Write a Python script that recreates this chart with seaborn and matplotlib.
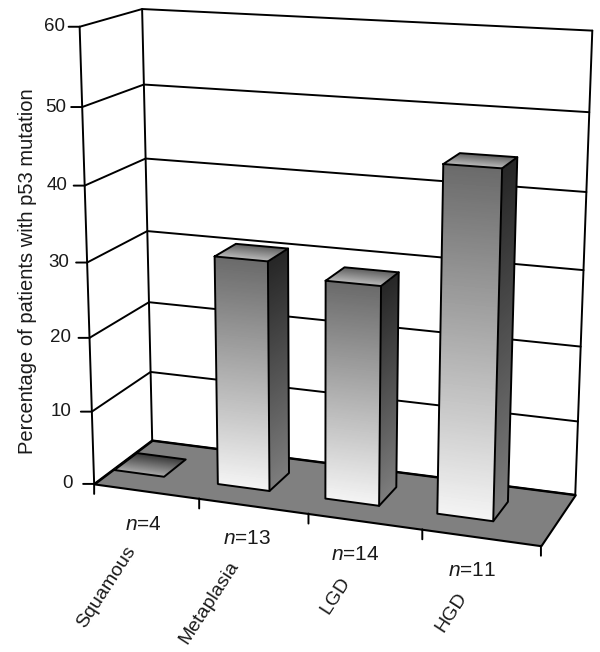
import numpy as np
import matplotlib
matplotlib.use("Agg")
import matplotlib.pyplot as plt
import seaborn as sns
from mpl_toolkits.mplot3d import proj3d
from mpl_toolkits.mplot3d.art3d import Poly3DCollection

categories = ["Squamous", "Metaplasia", "LGD", "HGD"]
n_labels = [4, 13, 14, 11]
values = [0, 30.8, 29.0, 44.9]
yticks = [0, 10, 20, 30, 40, 50, 60]

# pinhole camera of the old spreadsheet chart: (category, depth, percent) -> picture pixels
CAMERA = np.array([
    [101.148, 67.5399, -0.323049, 94.1475],
    [4.80703, -16.0719, -7.64664, 483.916],
    [-0.0195003, 0.0624234, -0.001018, 1.0],
])
BAR_START, BAR_WIDTH = 0.015, 0.485
BAR_FRONT, BAR_BACK = 0.31, 0.70
N_DX = [-3, -6, -10, -9]
CAT_DX = [-14, -18, -18, -18]

sns.set_theme(style="white")
plt.rcParams["font.family"] = ["Liberation Sans", "DejaVu Sans"]
plt.rcParams["mathtext.fontset"] = "custom"
plt.rcParams["mathtext.rm"] = "Liberation Sans"
plt.rcParams["mathtext.it"] = "Liberation Sans:italic"

fig = plt.figure(figsize=(6, 6.52), dpi=100)
ax = fig.add_axes([0, 0, 1, 1], projection="3d")
ax.set_xlim(0, 4, view_margin=0)
ax.set_ylim(0, 1, view_margin=0)
ax.set_zlim(0, 60, view_margin=0)
ax.computed_zorder = False
ax.set_axis_off()
ax.apply_aspect()
a0 = ax.transData.transform((0, 0))
k = ax.transData.transform((1, 1))[0] - a0[0]

row_u = (CAMERA[0] - a0[0] * CAMERA[2]) / k
row_v = ((652 - a0[1]) * CAMERA[2] - CAMERA[1]) / k
M = np.array([row_u, row_v, [0, 0.1, 0, -1.5], CAMERA[2]])
ax.get_proj = lambda: M


def face(X, Y, Z, colors, zorder):
    ax.plot_surface(X, Y, Z, facecolors=colors, rstride=1, cstride=1, shade=False,
                    linewidth=0, antialiased=False, zorder=zorder)


def ramp(start, end, n, cols=2):
    pal = np.array(sns.blend_palette([start, end], n_colors=n))
    rgba = np.c_[pal, np.ones(n)]
    return np.repeat(rgba[:, None, :], cols, axis=1)


def annotate_at(x, y, z, text, dx, dy, **kw):
    u, v, _ = proj3d.proj_transform(x, y, z, M)
    return ax.annotate(text, xy=(u, v), xytext=(dx, dy), textcoords="offset pixels",
                       annotation_clip=False, **kw)


line_kw = dict(color="black", lw=1.4)
tick_kw = dict(arrowstyle="-", lw=1.4, color="black", shrinkA=0, shrinkB=0)
text_color = "#1a1a1a"

floor = [[(0, 0, 0), (4, 0, 0), (4, 1, 0), (0, 1, 0)]]
ax.add_collection3d(Poly3DCollection(floor, facecolors="#808080", edgecolors="black", linewidths=1.5, zorder=1))
for z in yticks:
    ax.plot([0, 0, 4], [0, 1, 1], [z, z, z], zorder=2, clip_on=False, **line_kw)
    annotate_at(0, 0, z, "", -11, 0, arrowprops=tick_kw)
    annotate_at(0, 0, z, str(z), -21 + 6 * z / 60, 0, ha="right", va="center", fontsize=13.5, color=text_color)
for x_, y_ in [(0, 0), (0, 1), (4, 1)]:
    ax.plot([x_, x_], [y_, y_], [0, 60], zorder=2, clip_on=False, **line_kw)
for x_ in range(5):
    annotate_at(x_, 0, 0, "", 0, -10, arrowprops=tick_kw)

n = 200
y0, y1 = BAR_FRONT, BAR_BACK
for i, (cat, val, cnt) in enumerate(zip(categories, values, n_labels)):
    x0, x1 = i + BAR_START, i + BAR_START + BAR_WIDTH
    zo = 10 + i * 10
    if val > 0:
        zs = np.linspace(0, val, n)
        X, Z = np.meshgrid([x0, x1], zs)
        face(X, np.full_like(X, y0), Z, ramp("#f4f4f4", "#6a6a6a", n), zo)
        Y, Z = np.meshgrid([y0, y1], zs)
        face(np.full_like(Y, x1), Y, Z, ramp("#7d7d7d", "#262626", n), zo)
        top_cols = ("#b8b8b8", "#5a5a5a")
    else:
        top_cols = ("#a8a8a8", "#333333")
    ys = np.linspace(y0, y1, n)
    X, Y = np.meshgrid([x0, x1], ys)
    face(X, Y, np.full_like(X, val), ramp(top_cols[0], top_cols[1], n), zo)
    # outlines
    ax.plot([x0, x1, x1, x0, x0], [y0, y0, y1, y1, y0], [val] * 5, zorder=zo + 1, **line_kw)
    if val > 0:
        ax.plot([x0, x0, x1, x1, x1], [y0, y0, y0, y1, y1], [val, 0, 0, 0, val], zorder=zo + 1, **line_kw)
        ax.plot([x1, x1], [y0, y0], [0, val], zorder=zo + 1, **line_kw)
    # category text
    annotate_at(i + 0.5, 0, 0, rf"$\mathit{{n}}$={cnt}", N_DX[i], -33, ha="center", va="center", fontsize=15, color=text_color)
    annotate_at(i + 0.5, 0, 0, cat, CAT_DX[i], -57, ha="right", va="center", rotation=57, rotation_mode="anchor",
                fontsize=14, color=text_color)

fig.text(28 / 600, 1 - 271 / 652, "Percentage of patients with p53 mutation", rotation=90,
         ha="center", va="center", fontsize=14.5, color=text_color)

fig.savefig("out.png", dpi=100)
